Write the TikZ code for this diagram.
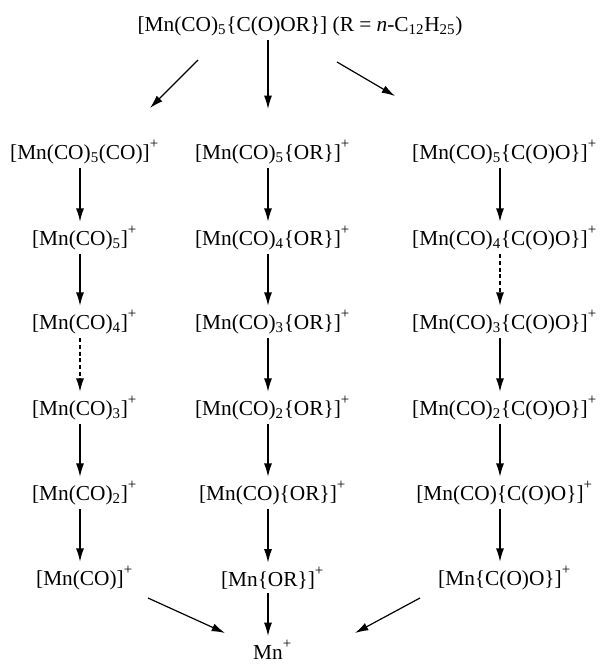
\documentclass[tikz,border=0pt]{standalone}
\usepackage{fontspec}
\setmainfont{Liberation Serif}
\usetikzlibrary{arrows.meta}

\newcommand{\cat}{\rlap{\raisebox{2pt}{\textsuperscript{+}}}}
\newcommand{\sub}[1]{\textsubscript{#1}}

\begin{document}
\begin{tikzpicture}[
    x=0.75pt, y=-0.75pt,
    every node/.style={
        font=\fontsize{16}{19}\selectfont,
        inner sep=3pt
    },
    arrow/.style={-{Latex[length=10pt,width=6pt]}, line width=0.9pt},
    weak/.style={arrow, densely dashed}
]
\useasboundingbox (0,0) rectangle (600,668);

% ------------------------
% Parent ester
% ------------------------
\node (ester) at (300,26)
{[Mn(CO)\sub{5}\{C(O)OR\}] (R = \textit{n}-C\sub{12}H\sub{25})};

% ------------------------
% Left column: loss of CO
% ------------------------
\node (co1) at (80,152) {[Mn(CO)\sub{5}(CO)]\cat};
\node (co2) at (80,238) {[Mn(CO)\sub{5}]\cat};
\node (co3) at (80,322) {[Mn(CO)\sub{4}]\cat};
\node (co4) at (80,408) {[Mn(CO)\sub{3}]\cat};
\node (co5) at (80,493) {[Mn(CO)\sub{2}]\cat};
\node (co6) at (80,578) {[Mn(CO)]\cat};

% ------------------------
% Middle column: alkoxy series
% ------------------------
\node (or1) at (268,152) {[Mn(CO)\sub{5}\{OR\}]\cat};
\node (or2) at (268,238) {[Mn(CO)\sub{4}\{OR\}]\cat};
\node (or3) at (268,322) {[Mn(CO)\sub{3}\{OR\}]\cat};
\node (or4) at (268,408) {[Mn(CO)\sub{2}\{OR\}]\cat};
\node (or5) at (268,493) {[Mn(CO)\{OR\}]\cat};
\node (or6) at (268,578) {[Mn\{OR\}]\cat};

% ------------------------
% Right column: carboxy series
% ------------------------
\node (cx1) at (500,152) {[Mn(CO)\sub{5}\{C(O)O\}]\cat};
\node (cx2) at (500,238) {[Mn(CO)\sub{4}\{C(O)O\}]\cat};
\node (cx3) at (500,322) {[Mn(CO)\sub{3}\{C(O)O\}]\cat};
\node (cx4) at (500,408) {[Mn(CO)\sub{2}\{C(O)O\}]\cat};
\node (cx5) at (500,493) {[Mn(CO)\{C(O)O\}]\cat};
\node (cx6) at (500,578) {[Mn\{C(O)O\}]\cat};

% ------------------------
% Bare metal ion
% ------------------------
\node (mn) at (268,650) {Mn\cat};

% ------------------------
% Arrows
% ------------------------
\coordinate (fromL) at (198,60);
\coordinate (toL)   at (150,108);
\coordinate (fromR) at (337,62);
\coordinate (toR)   at (395,96);
\coordinate (endL)  at (148,598);
\coordinate (intoL) at (225,633);
\coordinate (endR)  at (420,598);
\coordinate (intoR) at (355,633);

\draw[arrow] (fromL) -- (toL);
\draw[arrow] (ester.south -| or1) -- ++(0,69);
\draw[arrow] (fromR) -- (toR);

\draw[arrow] (co1) -- (co2);
\draw[arrow] (co2) -- (co3);
\draw[weak]  (co3) -- (co4);
\draw[arrow] (co4) -- (co5);
\draw[arrow] (co5) -- (co6);

\draw[arrow] (or1) -- (or2);
\draw[arrow] (or2) -- (or3);
\draw[arrow] (or3) -- (or4);
\draw[arrow] (or4) -- (or5);
\draw[arrow] (or5) -- (or6);

\draw[arrow] (cx1) -- (cx2);
\draw[weak]  (cx2) -- (cx3);
\draw[arrow] (cx3) -- (cx4);
\draw[arrow] (cx4) -- (cx5);
\draw[arrow] (cx5) -- (cx6);

\draw[arrow] (endL) -- (intoL);
\draw[arrow] (or6) -- (mn);
\draw[arrow] (endR) -- (intoR);

\end{tikzpicture}
\end{document}
